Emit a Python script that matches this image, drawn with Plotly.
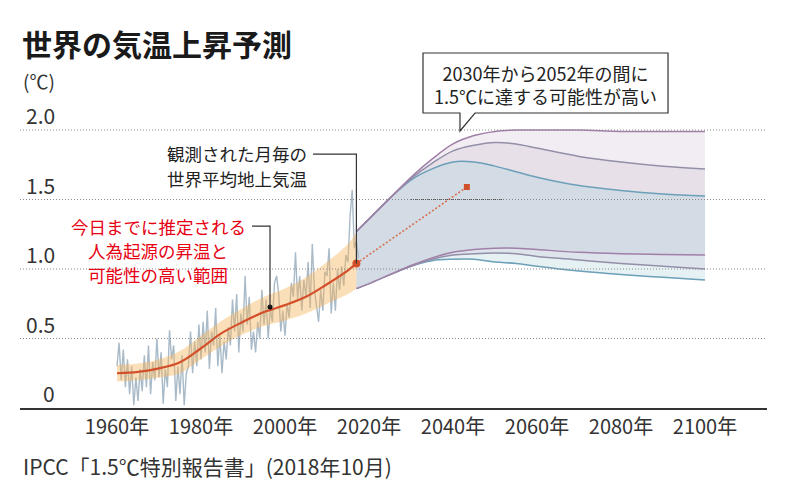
import plotly.graph_objects as go

# ---------------- data ----------------
title_text = "世界の気温上昇予測"
unit_text = "(℃)"
source_text = "IPCC「1.5℃特別報告書」(2018年10月)"

y_tick_values = [0, 0.5, 1.0, 1.5, 2.0]
y_tick_labels = ["0", "0.5", "1.0", "1.5", "2.0"]
x_tick_values = [1960, 1980, 2000, 2020, 2040, 2060, 2080, 2100]
x_tick_labels = ["1960年", "1980年", "2000年", "2020年", "2040年", "2060年", "2080年", "2100年"]

obs_start = 1960.0
obs_step = 0.5
obs_values = [
    0.30, 0.47, 0.20, 0.42, 0.15, 0.35, 0.10, 0.30, 0.02, 0.22,
    0.05, 0.28, 0.12, 0.38, 0.15, 0.45, 0.10, 0.33, 0.20, 0.50,
    0.22, 0.40, 0.03, 0.28, 0.15, 0.56, 0.35, 0.45, 0.05, 0.30,
    0.10, 0.38, 0.02, 0.25, 0.30, 0.55, 0.25, 0.48, 0.30, 0.60,
    0.35, 0.62, 0.40, 0.70, 0.28, 0.55, 0.45, 0.72, 0.30, 0.52,
    0.25, 0.48, 0.35, 0.58, 0.45, 0.78, 0.55, 0.82, 0.40, 0.68,
    0.55, 0.95, 0.60, 0.80, 0.42, 0.55, 0.40, 0.62, 0.50, 0.85,
    0.60, 0.78, 0.50, 0.72, 0.62, 0.90, 0.95, 0.82, 0.55, 0.70,
    0.52, 0.75, 0.65, 0.90, 0.80, 1.12, 0.78, 0.95, 0.70, 0.92,
    0.80, 1.05, 0.72, 1.18, 0.85, 0.75, 0.62, 0.85, 0.70, 0.98,
    0.95, 1.15, 0.68, 0.90, 0.70, 1.00, 0.85, 1.02, 0.88, 1.10,
    1.05, 1.38, 1.57, 1.15, 1.20, 1.08,
]
obs_years = [obs_start + obs_step * i for i in range(len(obs_values))]

# estimated human-induced warming to date and likely range
trend_years = [1960, 1965, 1970, 1975, 1980, 1985, 1990, 1995, 2000, 2005, 2010, 2015, 2017]
trend_values = [0.25, 0.26, 0.285, 0.33, 0.43, 0.54, 0.62, 0.69, 0.74, 0.80, 0.89, 0.99, 1.04]
trend_upper = [0.31, 0.32, 0.35, 0.41, 0.52, 0.63, 0.72, 0.80, 0.86, 0.94, 1.05, 1.18, 1.26]
trend_lower = [0.19, 0.20, 0.22, 0.25, 0.35, 0.45, 0.53, 0.59, 0.63, 0.68, 0.75, 0.82, 0.86]

# projected ranges
proj_years = [2017, 2020, 2025, 2030, 2035, 2040, 2045, 2050, 2055, 2060, 2070, 2080, 2090, 2100]
proj_top = [1.27, 1.36, 1.51, 1.66, 1.79, 1.90, 1.96, 1.99, 2.00, 2.00, 2.00, 1.99, 1.99, 1.99]
proj_mid_upper = [1.27, 1.36, 1.51, 1.65, 1.76, 1.85, 1.89, 1.91, 1.90, 1.87, 1.81, 1.77, 1.74, 1.72]
proj_blue_upper = [1.27, 1.36, 1.51, 1.64, 1.72, 1.77, 1.77, 1.74, 1.70, 1.66, 1.60, 1.565, 1.54, 1.525]
proj_purple_lower = [0.86, 0.895, 0.96, 1.025, 1.08, 1.12, 1.14, 1.15, 1.15, 1.14, 1.12, 1.11, 1.105, 1.10]
proj_mid_lower = [0.86, 0.895, 0.96, 1.02, 1.07, 1.10, 1.11, 1.115, 1.11, 1.09, 1.065, 1.04, 1.02, 1.00]
proj_blue_lower = [0.86, 0.895, 0.96, 1.02, 1.06, 1.07, 1.07, 1.05, 1.04, 1.02, 0.985, 0.96, 0.94, 0.92]

arrow_years = [2017, 2043.3]
arrow_values = [1.04, 1.59]
reach_years = [2030, 2052]
reach_level = 1.5

callout_lines = ["2030年から2052年の間に", "1.5℃に達する可能性が高い"]
observed_lines = ["観測された月毎の", "世界平均地上気温"]
human_lines = ["今日までに推定される", "人為起源の昇温と", "可能性の高い範囲"]

# ---------------- figure ----------------
W, H = 790, 496
ML, MR, MT, MB = 20, 23, 100, 88
PW, PH = W - ML - MR, H - MT - MB
X_RANGE = [1936.905, 2114.76]
Y_RANGE = [0, 2.2158]

def px(x):
    return (x - ML) / PW

def py(y):
    return (H - MB - y) / PH

FONT = "Noto Sans CJK JP, Noto Sans, sans-serif"

fig = go.Figure()

BLUE = "#6c9fb8"
PURPLE = "#a07fa8"
MIDC = "#938fa8"

def proj_trace(vals, color, fill=None, fillcolor=None):
    return go.Scatter(
        x=proj_years, y=vals, mode="lines",
        line=dict(color=color, width=1.5, shape="spline", smoothing=1.0),
        fill=fill, fillcolor=fillcolor, hoverinfo="skip", showlegend=False,
    )

fig.add_trace(proj_trace(proj_blue_lower, BLUE))
fig.add_trace(proj_trace(proj_mid_lower, MIDC, "tonexty", "#e6f1f4"))
fig.add_trace(proj_trace(proj_purple_lower, PURPLE, "tonexty", "#dde4eb"))
fig.add_trace(proj_trace(proj_blue_upper, BLUE, "tonexty", "#d3dbe4"))
fig.add_trace(proj_trace(proj_mid_upper, MIDC, "tonexty", "#e7e0e9"))
fig.add_trace(proj_trace(proj_top, PURPLE, "tonexty", "#f2edf3"))

# observed monthly
fig.add_trace(go.Scatter(
    x=obs_years, y=obs_values, mode="lines",
    line=dict(color="rgba(160,178,194,0.9)", width=1.4),
    hoverinfo="skip", showlegend=False,
))

# likely range band
fig.add_trace(go.Scatter(
    x=trend_years, y=trend_lower, mode="lines",
    line=dict(width=0, shape="spline"), hoverinfo="skip", showlegend=False,
))
fig.add_trace(go.Scatter(
    x=trend_years, y=trend_upper, mode="lines",
    line=dict(width=0, shape="spline"), fill="tonexty",
    fillcolor="rgba(246,178,85,0.42)", hoverinfo="skip", showlegend=False,
))
fig.add_trace(go.Scatter(
    x=trend_years, y=trend_values, mode="lines",
    line=dict(color="#d4502a", width=2.2, shape="spline"),
    hoverinfo="skip", showlegend=False,
))

# dotted arrow
fig.add_trace(go.Scatter(
    x=arrow_years, y=arrow_values, mode="lines",
    line=dict(color="#d8704f", width=1.6, dash="2px,2px"),
    hoverinfo="skip", showlegend=False,
))
fig.add_trace(go.Scatter(
    x=arrow_years[1:], y=arrow_values[1:], mode="markers",
    marker=dict(color="#d0502c", size=6, symbol="square"),
    hoverinfo="skip", showlegend=False,
))
fig.add_trace(go.Scatter(
    x=[trend_years[-1]], y=[trend_values[-1]], mode="markers",
    marker=dict(color="#d4502a", size=8),
    hoverinfo="skip", showlegend=False,
))

shapes = []
# gridlines (dotted, above data)
for v in y_tick_values[1:]:
    shapes.append(dict(type="line", xref="paper", yref="y", x0=0, x1=1, y0=v, y1=v,
                       line=dict(color="#8a8a8a", width=1, dash="1px,2px"), layer="above"))
# 1.5C reach segment
shapes.append(dict(type="line", xref="x", yref="y", x0=reach_years[0], x1=reach_years[1],
                   y0=reach_level, y1=reach_level,
                   line=dict(color="#555555", width=1.2, dash="1px,1px"), layer="above"))

# leader lines
def dpx_year(x):
    return 1960 + (x - 117) / 4.2

def dpx_val(y):
    return (408 - y) / 139.0

obs_path = "M {:.2f},{:.3f} L {:.2f},{:.3f} L {:.2f},{:.3f}".format(
    dpx_year(313), dpx_val(154), trend_years[-1], dpx_val(154), trend_years[-1], trend_values[-1])
shapes.append(dict(type="path", xref="x", yref="y", path=obs_path,
                   line=dict(color="#333333", width=1.2), layer="above"))
hx = dpx_year(270)
hum_path = "M {:.2f},{:.3f} L {:.2f},{:.3f} L {:.2f},{:.3f}".format(
    dpx_year(252), dpx_val(226), hx, dpx_val(226), hx, dpx_val(307))
shapes.append(dict(type="path", xref="x", yref="y", path=hum_path,
                   line=dict(color="#333333", width=1.2), layer="above"))

# callout box with pointer
pts = [(423, 53), (668, 53), (668, 113), (475, 113), (460, 131), (460, 113), (423, 113)]
box_path = "M " + " L ".join("{:.4f},{:.4f}".format(px(a), py(b)) for a, b in pts) + " Z"
shapes.append(dict(type="path", xref="paper", yref="paper", path=box_path,
                   fillcolor="white", line=dict(color="#333333", width=1.2), layer="above"))

fig.add_trace(go.Scatter(
    x=[hx], y=[dpx_val(307)], mode="markers",
    marker=dict(color="#111111", size=5), hoverinfo="skip", showlegend=False,
))

annotations = []
annotations.append(dict(text="<b>" + title_text + "</b>", xref="paper", yref="paper",
                        x=px(20), y=py(43), xanchor="left", yanchor="middle", showarrow=False,
                        font=dict(family=FONT, size=30, color="#1a1a1a")))
annotations.append(dict(text=unit_text, xref="paper", yref="paper",
                        x=px(21), y=py(80), xanchor="left", yanchor="middle", showarrow=False,
                        font=dict(family=FONT, size=19, color="#333333")))
for v, t in zip(y_tick_values, y_tick_labels):
    annotations.append(dict(text=t, xref="paper", yref="y", x=px(57), y=v,
                            xanchor="right", yanchor="middle", yshift=15, showarrow=False,
                            font=dict(family=FONT, size=21, color="#333333")))
annotations.append(dict(text="<br>".join(callout_lines), xref="paper", yref="paper",
                        x=px(545), y=py(84), xanchor="center", yanchor="middle",
                        align="center", showarrow=False,
                        font=dict(family=FONT, size=18, color="#222222")))
for i, t in enumerate(observed_lines):
    annotations.append(dict(text=t, xref="paper", yref="paper", x=px(237), y=py(153 + 25 * i),
                            xanchor="center", yanchor="middle", showarrow=False,
                            font=dict(family=FONT, size=17.5, color="#222222")))
for i, t in enumerate(human_lines):
    annotations.append(dict(text=t, xref="paper", yref="paper", x=px(158), y=py(226 + 24 * i),
                            xanchor="center", yanchor="middle", showarrow=False,
                            font=dict(family=FONT, size=17.5, color="#e60012")))
annotations.append(dict(text=source_text, xref="paper", yref="paper",
                        x=px(21), y=py(466), xanchor="left", yanchor="middle", showarrow=False,
                        font=dict(family=FONT, size=21, color="#333333")))

fig.update_layout(
    width=W, height=H,
    margin=dict(l=ML, r=MR, t=MT, b=MB, pad=0),
    paper_bgcolor="white", plot_bgcolor="white",
    shapes=shapes, annotations=annotations,
    showlegend=False,
    xaxis=dict(range=X_RANGE, showgrid=False, zeroline=False,
               showline=True, linecolor="#333333", linewidth=1.5,
               tickmode="array", tickvals=x_tick_values, ticktext=x_tick_labels,
               ticks="", tickfont=dict(family=FONT, size=20, color="#333333"),
               fixedrange=True),
    yaxis=dict(range=Y_RANGE, showgrid=False, zeroline=False, showline=False,
               showticklabels=False, ticks="", fixedrange=True),
)

fig.write_html("out.html", config={"displayModeBar": False},
               post_script="document.body.style.margin='0px';document.body.style.overflow='hidden';")
